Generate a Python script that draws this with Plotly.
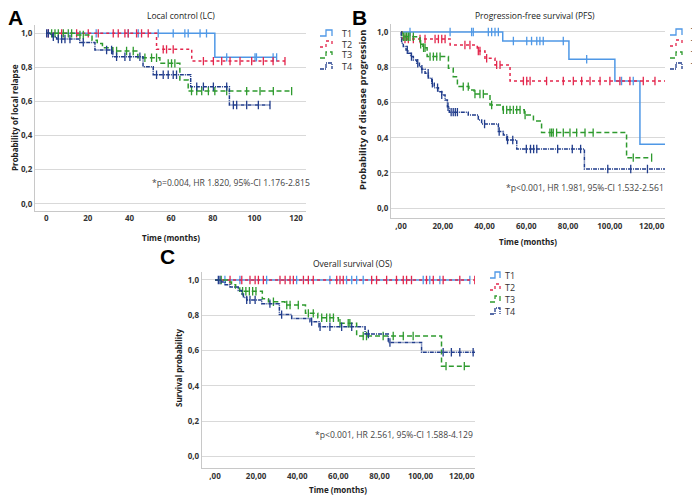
import numpy as np
import plotly.graph_objects as go

W, H = 700, 496
OFF = 8  # the page body adds an 8px margin around the figure

# ---------------- data ----------------
groups = ["T1", "T2", "T3", "T4"]

# A: local control (LC) - step times and survival after each step
A_T1_t = [0, 81.0, 110.7]
A_T1_s = [1.0, 0.859, 0.859]
A_T2_t = [0, 53.0, 69.9, 114.7]
A_T2_s = [1.0, 0.906, 0.837, 0.837]
A_T3_t = [0, 14.6, 22.0, 24.5, 27.0, 32.0, 44.0, 54.6, 64.2, 68.2, 117.9]
A_T3_s = [1.0, 0.99, 0.96, 0.94, 0.915, 0.896, 0.857, 0.824, 0.726, 0.661, 0.661]
A_T4_t = [0, 1.5, 3.0, 5.0, 16.1, 23.4, 32.0, 46.5, 51.4, 69.4, 88.0, 107.5]
A_T4_s = [1.0, 0.994, 0.98, 0.967, 0.947, 0.902, 0.863, 0.804, 0.757, 0.687, 0.579, 0.579]

A_T1_c = [24, 39.4, 44.2, 53.8, 61, 66.6, 68.2, 73.9, 77, 86.7, 100.3, 101, 109, 110.7]
A_T2_c = [1, 7.4, 14.6, 20.2, 25, 32.2, 34.6, 37.8, 39.4, 43.4, 45.8, 49, 56.2, 57.8, 61,
          75.5, 80.3, 84.3, 88.3, 93.1, 98.7, 104.3, 109, 114.7]
A_T3_c = [2.6, 4.2, 5.8, 8.2, 10.6, 12.2, 16.2, 17.8, 33.8, 38.6, 41.8, 47.4, 50.6, 53,
          58.6, 60.2, 61.8, 69.8, 72.3, 74.7, 77.9, 81, 86.7, 96.3, 102.7, 109.1, 117.9]
A_T4_c = [0.2, 1, 3.4, 5.8, 7.4, 9, 11.4, 17.8, 29, 31.4, 33.8, 37.8, 40.2, 45, 53, 56.2,
          58.6, 61, 62.6, 72.3, 75.5, 80.3, 86.7, 89.9, 91.5, 96.3, 101.9, 107.5]

# B: progression-free survival (PFS)
B_T1_t = [0, 48.7, 80.4, 102.4, 114.4, 126.4]
B_T1_s = [1.0, 0.949, 0.845, 0.722, 0.363, 0.363]
B_T2_t = [0, 0.5, 23.5, 36.5, 40.2, 45.0, 52.2, 126.4]
B_T2_s = [1.0, 0.96, 0.926, 0.892, 0.851, 0.813, 0.722, 0.722]
B_T3_t = [0, 0.4, 9.1, 10.5, 12.5, 22.7, 25.0, 27.0, 32.5, 35.0, 42.6, 48.8, 59.0, 63.4,
          67.3, 108.0, 120.0]
B_T3_s = [1.0, 0.973, 0.93, 0.91, 0.86, 0.794, 0.746, 0.69, 0.671, 0.648, 0.586, 0.558,
          0.529, 0.495, 0.429, 0.287, 0.287]
B_T4_t = [0, 0.1, 0.3, 1.1, 2.4, 3.5, 4.6, 5.9, 7.5, 8.8, 9.9, 11.5, 13.1, 14.7, 15.9,
          17.9, 19.5, 21.1, 22.2, 23.1, 32.2, 37.0, 38.6, 46.6, 49.0, 50.6, 55.4, 87.8, 126.4]
B_T4_s = [1.0, 0.964, 0.936, 0.917, 0.898, 0.879, 0.86, 0.841, 0.822, 0.803, 0.788, 0.766,
          0.737, 0.709, 0.684, 0.661, 0.643, 0.614, 0.576, 0.545, 0.529, 0.501, 0.478,
          0.435, 0.416, 0.387, 0.336, 0.223, 0.223]

B_T1_c = [4.3, 23.5, 33.8, 34.6, 41.8, 43.4, 45, 46.6, 53.8, 60.2, 62.5, 65, 66.5, 68.1,
          77.7, 88.9, 105.6, 111.2]
B_T2_c = [1.9, 3.5, 5.9, 9.1, 11.5, 16.3, 17.9, 19.5, 21.1, 30.6, 33, 37, 37.8, 41, 45.8,
          47.4, 58.6, 60.2, 61.8, 69.7, 77.7, 82.5, 86.5, 90.5, 95.3, 100, 104.8, 109.6,
          116, 121.6]
B_T3_c = [1.1, 1.9, 2.7, 3.5, 4.3, 5.9, 9.4, 10.8, 11.5, 13.9, 15.5, 17.1, 18.7, 29.8,
          32.2, 35.4, 37.8, 39.4, 43.4, 49, 50.6, 52.2, 53.8, 55.4, 57, 59.4, 71.3, 72.1,
          72.9, 74.5, 77.7, 80.9, 84.1, 88.1, 92, 111.2, 120]
B_T4_c = [3, 5, 8, 10, 13, 15, 17.5, 19.5, 22.5, 24, 25, 26, 27, 40, 47, 51, 53.5, 60,
          62, 63.5, 65, 75, 82, 86, 99, 110, 118]

# C: overall survival (OS)
C_T1_t = [0, 124.0]
C_T1_s = [1.0, 1.0]
C_T2_t = [0, 126.4]
C_T2_s = [1.0, 1.0]
C_T3_t = [0, 6.0, 8.0, 10.0, 12.0, 23.0, 26.0, 34.0, 44.0, 50.0, 60.0, 68.9, 110.2, 124.8]
C_T3_s = [1.0, 0.988, 0.973, 0.955, 0.936, 0.893, 0.877, 0.858, 0.811, 0.786, 0.755,
          0.683, 0.512, 0.512]
C_T4_t = [0, 3.2, 4.9, 7.3, 11.3, 13.0, 13.8, 15.4, 22.7, 31.3, 37.3, 46.2, 50.6, 73.0,
          84.3, 100.5, 126.5]
C_T4_s = [1.0, 0.988, 0.973, 0.96, 0.94, 0.92, 0.90, 0.887, 0.866, 0.804, 0.782, 0.764,
          0.735, 0.694, 0.646, 0.591, 0.591]

C_T1_c = [4.8, 12.1, 25.1, 39.7, 55.9, 64, 66.5, 68.9, 72.1, 101.3, 104.5, 109.4, 124]
C_T2_c = [7.3, 13, 17, 19.5, 21.1, 23.5, 31.6, 34.1, 36.5, 38.1, 43, 45.4, 47.8, 59.2,
          60.8, 62.4, 76.2, 78.6, 83.5, 88.3, 91.6, 93.2, 95.6, 102.9, 106.2, 111, 119.1,
          126.4]
C_T3_c = [3, 13.4, 15, 16.7, 18.3, 19.9, 28.4, 34.9, 36.5, 40.5, 45.4, 47.8, 51.9, 54.3,
          55.9, 57.6, 60.8, 64.8, 65.6, 72.1, 73.7, 81.8, 86.7, 91.6, 96.4, 112.4, 121.3]
C_T4_c = [1.6, 2.4, 15.4, 17, 19.5, 26.7, 32.4, 47, 51.1, 55.9, 61.6, 66.5, 74.6, 85.1,
          111, 115, 119.1, 125.6]

y_ticks = [0, 0.2, 0.4, 0.6, 0.8, 1.0]
y_ticktext = ["0,0", "0,2", "0,4", "0,6", "0,8", "1,0"]
x_ticks = [0, 20, 40, 60, 80, 100, 120]
x_ticktext_A = ["0", "20", "40", "60", "80", "100", "120"]
x_ticktext_BC = [",00", "20,00", "40,00", "60,00", "80,00", "100,00", "120,00"]

colors = {"T1": "#4f98e6", "T2": "#e3264c", "T3": "#2e9a2e", "T4": "#213d8c"}
dashes = {"T1": "solid", "T2": "dot", "T3": "5px,3px", "T4": "4px,1px,1px,1px"}

panels = [
    dict(name="A", title="Local control (LC)", ylab="Probability of local relapse",
         ylab_size=8,
         stat="*p=0.004, HR 1.820, 95%-CI 1.176-2.815",
         curves=[(A_T1_t, A_T1_s, A_T1_c), (A_T2_t, A_T2_s, A_T2_c),
                 (A_T3_t, A_T3_s, A_T3_c), (A_T4_t, A_T4_s, A_T4_c)],
         xt=x_ticktext_A,
         px=(35, 306), py=(25, 210.7), xr=(-5.4, 124.8), yr=(-0.041, 1.049),
         title_xy=(181, 15), ylab_xy=(14, 118), xlab_y=237, stat_xy=(312, 183),
         letter_xy=(15, 17), leg_x=(320, 332, 340), leg_y=[33, 44, 55, 66]),
    dict(name="B", title="Progression-free survival (PFS)",
         ylab="Probability of disease progression", ylab_size=9.5,
         stat="*p<0.001, HR 1.981, 95%-CI 1.532-2.561",
         curves=[(B_T1_t, B_T1_s, B_T1_c), (B_T2_t, B_T2_s, B_T2_c),
                 (B_T3_t, B_T3_s, B_T3_c), (B_T4_t, B_T4_s, B_T4_c)],
         xt=x_ticktext_BC,
         px=(391, 665), py=(24, 218.3), xr=(-4.8, 126.4), yr=(-0.057, 1.045),
         title_xy=(535, 16), ylab_xy=(362, 110), xlab_y=241, stat_xy=(666, 188),
         letter_xy=(359, 17), leg_x=(670, 682, 689), leg_y=[32, 43, 55, 66]),
    dict(name="C", title="Overall survival (OS)", ylab="Survival probability",
         ylab_size=8,
         stat="*p<0.001, HR 2.561, 95%-CI 1.588-4.129",
         curves=[(C_T1_t, C_T1_s, C_T1_c), (C_T2_t, C_T2_s, C_T2_c),
                 (C_T3_t, C_T3_s, C_T3_c), (C_T4_t, C_T4_s, C_T4_c)],
         xt=x_ticktext_BC,
         px=(201.7, 475), py=(272, 468.3), xr=(-6.5, 126.5), yr=(-0.066, 1.045),
         title_xy=(353, 263), ylab_xy=(178, 368), xlab_y=489, stat_xy=(475, 435),
         letter_xy=(167.5, 256), leg_x=(490, 500, 503), leg_y=[275, 287, 299, 311]),
]


# positions above are screen pixels; convert to paper fractions
def fx(x):
    return (x - OFF) / W


def fy(y):
    return 1 - (y - OFF) / H


def step_value(t, s, x):
    i = np.searchsorted(np.array(t), np.array(x), side="right") - 1
    return np.array(s)[np.clip(i, 0, len(s) - 1)]


fig = go.Figure()
annotations = []
shapes = []
FONT = "Open Sans"

for k, p in enumerate(panels):
    sfx = "" if k == 0 else str(k + 1)
    xa, ya = "x" + sfx, "y" + sfx
    for g, (t, s, c) in zip(groups, p["curves"]):
        fig.add_trace(go.Scatter(
            x=t, y=s, mode="lines", line_shape="hv", xaxis=xa, yaxis=ya,
            line=dict(color=colors[g], width=1.5, dash=dashes[g]),
            showlegend=False, hoverinfo="skip"))
        fig.add_trace(go.Scatter(
            x=c, y=step_value(t, s, c), mode="markers", xaxis=xa, yaxis=ya,
            marker=dict(symbol="line-ns", size=6,
                        line=dict(color=colors[g], width=1.3)),
            showlegend=False, hoverinfo="skip"))

    axis_common = dict(showline=True, linecolor="#c8c8c8", linewidth=1, zeroline=False,
                       ticks="", tickfont=dict(family=FONT, size=8, color="#333",
                                                weight="bold"))
    fig.update_layout({
        "xaxis" + sfx: dict(domain=[fx(p["px"][0]), fx(p["px"][1])], range=list(p["xr"]),
                            anchor=ya, tickvals=x_ticks, ticktext=p["xt"],
                            showgrid=False, **axis_common),
        "yaxis" + sfx: dict(domain=[fy(p["py"][1]), fy(p["py"][0])], range=list(p["yr"]),
                            anchor=xa, tickvals=y_ticks, ticktext=y_ticktext,
                            showgrid=True, gridcolor="#d9d9d9", gridwidth=1,
                            **axis_common),
    })

    cx = (p["px"][0] + p["px"][1]) / 2
    annotations += [
        dict(text=p["title"], x=fx(p["title_xy"][0]), y=fy(p["title_xy"][1]),
             font=dict(family=FONT, size=8.5, color="#222")),
        dict(text=p["ylab"], x=fx(p["ylab_xy"][0]), y=fy(p["ylab_xy"][1]), textangle=-90,
             font=dict(family=FONT, size=p["ylab_size"], color="#222", weight="bold")),
        dict(text="Time (months)", x=fx(cx), y=fy(p["xlab_y"]),
             font=dict(family=FONT, size=8, color="#222", weight="bold")),
        dict(text=p["stat"], x=fx(p["stat_xy"][0]), y=fy(p["stat_xy"][1]),
             xanchor="right", font=dict(family=FONT, size=8.6, color="#444")),
        dict(text="<b>" + p["name"] + "</b>", x=fx(p["letter_xy"][0]),
             y=fy(p["letter_xy"][1]),
             font=dict(family="Liberation Sans", size=21, color="#000")),
    ]
    x0, x2, xt = p["leg_x"]
    x1 = (x0 + x2) / 2
    for g, ly in zip(groups, p["leg_y"]):
        yl, yh = ly + 3, ly - 3
        path = (f"M{fx(x0)},{fy(yl)} L{fx(x1)},{fy(yl)} L{fx(x1)},{fy(yh)} "
                f"L{fx(x2)},{fy(yh)} L{fx(x2)},{fy(yl)}")
        shapes.append(dict(type="path", path=path, xref="paper", yref="paper",
                           line=dict(color=colors[g], width=1.3, dash=dashes[g])))
        annotations.append(dict(text=g, x=fx(xt), y=fy(ly), xanchor="left",
                                font=dict(family=FONT, size=9, color="#333")))

for a in annotations:
    a.setdefault("xref", "paper")
    a.setdefault("yref", "paper")
    a.setdefault("xanchor", "center")
    a.setdefault("yanchor", "middle")
    a.setdefault("showarrow", False)

fig.update_layout(
    width=W, height=H, margin=dict(l=0, r=0, t=0, b=0),
    paper_bgcolor="white", plot_bgcolor="white",
    annotations=annotations, shapes=shapes, showlegend=False,
)

fig.write_html("out.html")
